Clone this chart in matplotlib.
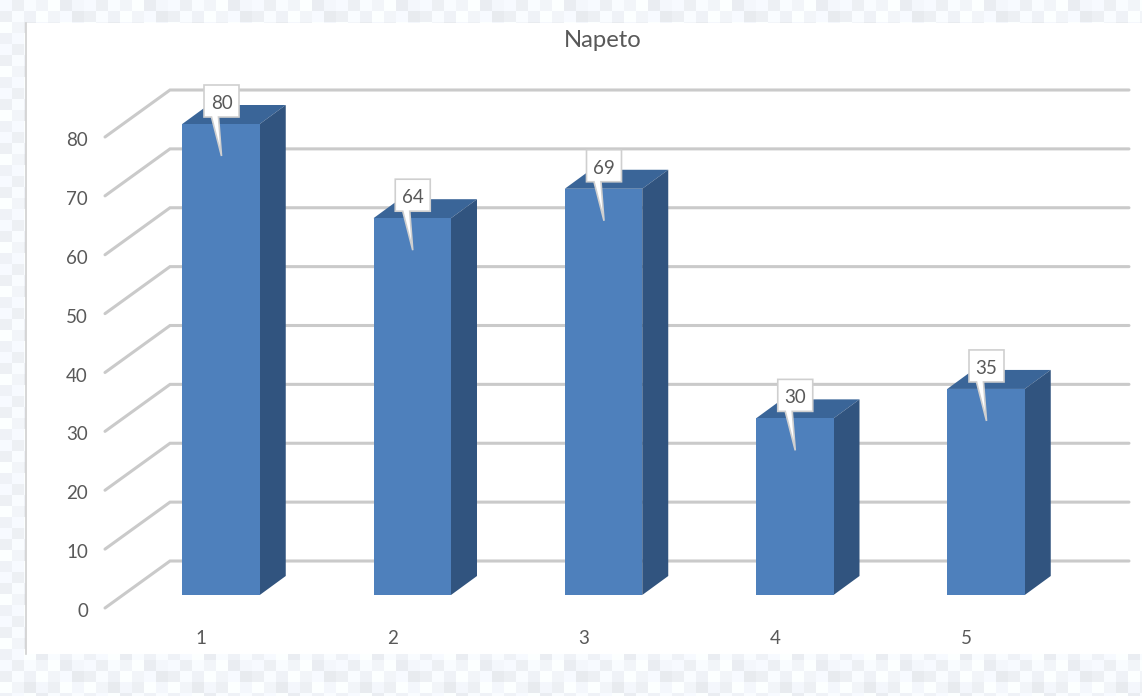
import numpy as np
import matplotlib.pyplot as plt
from matplotlib.patches import Rectangle

plt.rcParams['font.family'] = ['Lato', 'DejaVu Sans']

categories = ['1', '2', '3', '4', '5']
values = [80, 64, 69, 30, 35]
grid_ticks = [0, 10, 20, 30, 40, 50, 60, 70, 80]

# pale blocky backdrop, repeated across the page
tile = [[0.97, 0.93, 0.98, 0.95, 0.99, 0.92, 0.96],
        [0.93, 0.98, 0.94, 0.99, 0.95, 0.97, 0.91],
        [0.99, 0.95, 0.91, 0.96, 0.93, 0.99, 0.96],
        [0.94, 0.97, 0.99, 0.92, 0.98, 0.94, 0.98]]

W, H = 1142, 696
px_x = 191.25  # pixels per category
px_y = 5.8875  # pixels per value unit
x0_px = 221 - px_x  # pixel of x=0
y0_px = 595  # pixel of y=0

TEXT = '#595959'
GRID = '#cacaca'

fig = plt.figure(figsize=(W / 100, H / 100), dpi=100, facecolor='#f5f8fc')

# backdrop
bg = fig.add_axes([0, 0, 1, 1])
shade = np.tile(np.array(tile), (16, 14))
rgb = np.dstack([shade, 0.02 + 0.98 * shade + 0.01, np.minimum(shade + 0.03, 1)])
bg.imshow(np.clip(rgb, 0, 1), extent=[0, 14 * 7 * 12, 16 * 4 * 11, 0], interpolation='nearest', aspect='auto')
bg.set_xlim(0, W)
bg.set_ylim(H, 0)
bg.axis('off')

ax = fig.add_axes([0, 0, 1, 1])
ax.patch.set_alpha(0)
ax.set_xlim(-x0_px / px_x, (W - x0_px) / px_x)
ax.set_ylim((y0_px - H) / px_y, y0_px / px_y)
ax.axis('off')


def dx(p):
    return p / px_x


def dy(p):
    return p / px_y


def xpx(p):
    return (p - x0_px) / px_x


# white chart panel with its thin left edge
ax.add_patch(Rectangle((xpx(26), dy(595 - 654)), dx(W - 26), dy(654 - 23),
                       fc='white', ec='none', zorder=0))
ax.plot([xpx(26), xpx(26)], [dy(595 - 654), dy(595 - 23)], color='#d0d0d0', lw=1.2, zorder=1)

# gridlines, running along the side wall then the back wall
for v in grid_ticks:
    ax.plot([xpx(105), xpx(170), xpx(1129)],
            [v - dy(13), v + dy(34), v + dy(34)],
            color=GRID, lw=2.2, solid_capstyle='round', solid_joinstyle='miter', zorder=2)
    ax.text(xpx(88), v - dy(14) - dy(2.5), str(v), ha='right', va='center', fontsize=13.5, color=TEXT)

# 3d bars
bar_w = 77.5 / px_x
depth_x, depth_y = dx(26), dy(19)
for i, (cat, val) in enumerate(zip(categories, values)):
    c = i + 1
    left, right = c - bar_w / 2, c + bar_w / 2
    ax.fill([left, right, right + depth_x, left + depth_x],
            [val, val, val + depth_y, val + depth_y], color='#3a6598', lw=0, zorder=3)
    ax.fill([right, right + depth_x, right + depth_x, right],
            [0, depth_y, val + depth_y, val], color='#31547f', lw=0, zorder=3)
    ax.add_patch(Rectangle((left, 0), bar_w, val, fc='#4e80bc', ec='none', zorder=4))
    ax.text(c - dx(20), dy(-43), cat, ha='center', va='center', fontsize=13.5, color=TEXT)

    # callout with the value
    bx = c + dx(0.5)
    bl, br = bx - dx(17.5), bx + dx(17.5)
    bt, bb = val + dy(39), val + dy(7)
    ax.fill([bl, br, br, bx - dx(3), bx, bx - dx(10), bl],
            [bt, bt, bb, bb, val - dy(32), bb, bb],
            fc='white', ec='#cfcfcf', lw=1.2, joinstyle='miter', zorder=5)
    ax.text(bx, (bt + bb) / 2 - dy(2.5), str(val), ha='center', va='center',
            fontsize=13.5, color=TEXT, zorder=6)

ax.text(xpx(603), dy(595 - 40), 'Napeto', ha='center', va='center', fontsize=17.2, color=TEXT)

fig.savefig('out.png', dpi=100, facecolor=fig.get_facecolor())
